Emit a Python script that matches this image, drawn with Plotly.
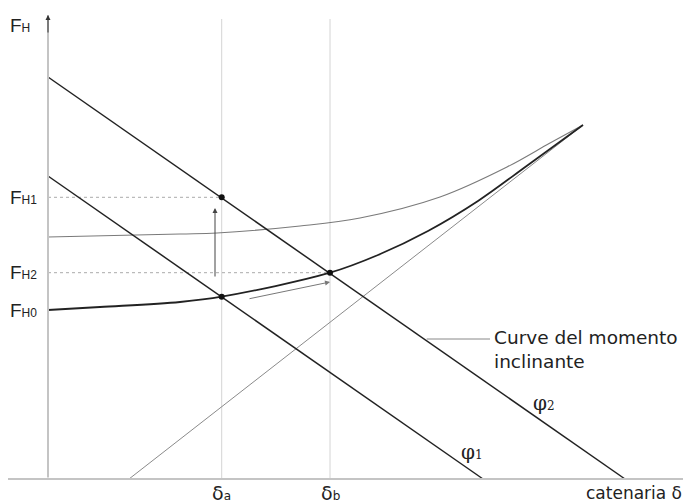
import plotly.graph_objects as go

# Data (arbitrary units: δ on x, F_H on y)
phi1_x = [0, 435]
phi1_y = [303, 0]
phi2_x = [0, 577]
phi2_y = [402, 0]
diag_x = [81, 535]
diag_y = [0, 354]
lower_x = [0, 52, 132, 173.7, 282, 330, 380, 430, 480, 535]
lower_y = [169, 172, 177, 182.3, 206.3, 224, 248, 278, 314, 354]
upper_x = [0, 132, 169, 252, 312, 392, 459, 502, 535]
upper_y = [242, 245, 246, 253, 261, 282, 312, 336, 354]
delta_a, delta_b = 173.7, 282
FH0, FH1, FH2 = 169, 281.7, 206.3
pts_x = [delta_a, delta_a, delta_b]
pts_y = [FH1, 182.3, FH2]

fig = go.Figure()

# vertical guide lines
for xv in [delta_a, delta_b]:
    fig.add_trace(go.Scatter(x=[xv, xv], y=[0, 460], mode="lines",
                             line=dict(color="#d4d4d4", width=1), hoverinfo="skip"))
# dotted horizontal guides
fig.add_trace(go.Scatter(x=[0, delta_a], y=[FH1, FH1], mode="lines",
                         line=dict(color="#aaaaaa", width=1, dash="dot"), hoverinfo="skip"))
fig.add_trace(go.Scatter(x=[0, delta_b], y=[FH2, FH2], mode="lines",
                         line=dict(color="#aaaaaa", width=1, dash="dot"), hoverinfo="skip"))
# diagonal
fig.add_trace(go.Scatter(x=diag_x, y=diag_y, mode="lines",
                         line=dict(color="#8a8a8a", width=1), hoverinfo="skip"))
# upper thin curve
fig.add_trace(go.Scatter(x=upper_x, y=upper_y, mode="lines", line_shape="spline",
                         line=dict(color="#7a7a7a", width=1.1), hoverinfo="skip"))
# lower bold curve
fig.add_trace(go.Scatter(x=lower_x, y=lower_y, mode="lines", line_shape="spline",
                         line=dict(color="#222222", width=1.8), hoverinfo="skip"))
# phi lines
fig.add_trace(go.Scatter(x=phi1_x, y=phi1_y, mode="lines",
                         line=dict(color="#222222", width=1.5), hoverinfo="skip"))
fig.add_trace(go.Scatter(x=phi2_x, y=phi2_y, mode="lines",
                         line=dict(color="#222222", width=1.5), hoverinfo="skip"))
# points
fig.add_trace(go.Scatter(x=pts_x, y=pts_y, mode="markers",
                         marker=dict(color="#111111", size=6), hoverinfo="skip"))

# axes
fig.add_shape(type="line", x0=-48, x1=642, y0=0, y1=0, line=dict(color="#c4c4c4", width=2))
fig.add_annotation(x=0, y=464, ax=0, ay=0, xref="x", yref="y", axref="x", ayref="y",
                   showarrow=True, arrowhead=0, arrowwidth=2, arrowcolor="#c4c4c4", text="")
fig.add_annotation(x=0, y=464, ax=0, ay=445, xref="x", yref="y", axref="x", ayref="y",
                   showarrow=True, arrowhead=2, arrowsize=1, arrowwidth=1, arrowcolor="#333333", text="")

# leader line for curve label
fig.add_shape(type="line", x0=378.7, x1=442, y0=140, y1=140, line=dict(color="#888888", width=1))

# arrows
fig.add_annotation(x=167, y=271, ax=167, ay=201, xref="x", yref="y", axref="x", ayref="y",
                   showarrow=True, arrowhead=2, arrowsize=1, arrowwidth=1, arrowcolor="#444444", text="")
fig.add_annotation(x=282, y=197, ax=200, ay=180, xref="x", yref="y", axref="x", ayref="y",
                   showarrow=True, arrowhead=2, arrowsize=1, arrowwidth=1, arrowcolor="#777777", text="")

sans = "DejaVu Sans"
serif = "DejaVu Serif"
def F(sub):
    return "F<span style='font-size:12px'>%s</span>" % sub

labels = [
    (-16, 454, F("H")),
    (-9, FH1, F("H1")),
    (-9, FH2, F("H2")),
    (-9, FH0, F("H0")),
]
for x, y, t in labels:
    fig.add_annotation(x=x, y=y, text=t, showarrow=False, xanchor="right", yanchor="middle",
                       font=dict(family="Liberation Sans", size=19, color="#222222"))

fig.add_annotation(x=delta_a, y=-14, text="δ<span style='font-size:12px'>a</span>", showarrow=False,
                   xanchor="center", yanchor="middle", font=dict(family=sans, size=19, color="#222222"))
fig.add_annotation(x=delta_b, y=-14, text="δ<span style='font-size:12px'>b</span>", showarrow=False,
                   xanchor="center", yanchor="middle", font=dict(family=sans, size=19, color="#222222"))
fig.add_annotation(x=636, y=-14, text="catenaria δ", showarrow=False,
                   xanchor="right", yanchor="middle", font=dict(family=sans, size=17, color="#222222"))
fig.add_annotation(x=444, y=130, text="Curve del momento<br>inclinante", showarrow=False, align="left",
                   xanchor="left", yanchor="middle", font=dict(family=sans, size=18.5, color="#222222"))
fig.add_annotation(x=496, y=76, text="φ<span style='font-size:12px'>2</span>", showarrow=False,
                   xanchor="center", yanchor="middle", font=dict(family=serif, size=20, color="#222222"))
fig.add_annotation(x=424, y=27, text="φ<span style='font-size:12px'>1</span>", showarrow=False,
                   xanchor="center", yanchor="middle", font=dict(family=serif, size=20, color="#222222"))

# page body has an 8px margin: the figure is sized and ranged to compensate
fig.update_layout(
    width=683, height=496,
    margin=dict(l=0, r=0, t=0, b=0),
    paper_bgcolor="white", plot_bgcolor="white",
    showlegend=False,
    xaxis=dict(range=[-40, 643], visible=False, fixedrange=True),
    yaxis=dict(range=[-25, 471], visible=False, fixedrange=True),
)
fig.write_html("out.html", config={"displayModeBar": False})
